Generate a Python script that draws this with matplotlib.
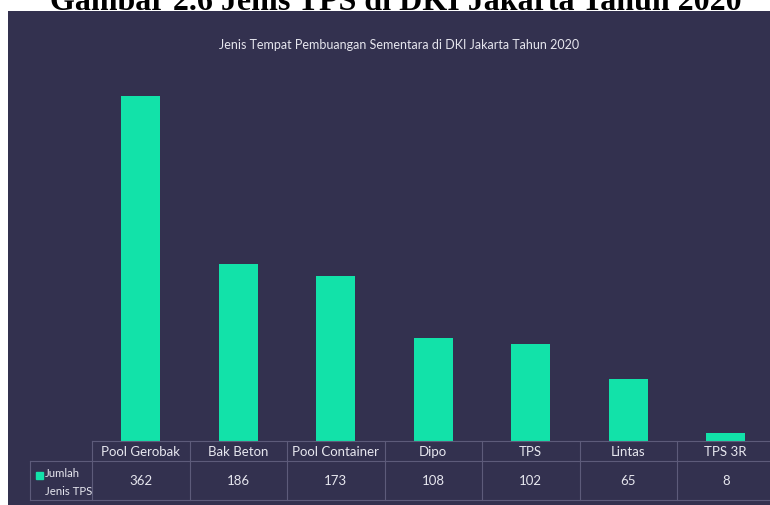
import matplotlib.pyplot as plt
import numpy as np

categories = ['Pool Gerobak', 'Bak Beton', 'Pool Container', 'Dipo', 'TPS', 'Lintas', 'TPS 3R']
jumlah = [362, 186, 173, 108, 102, 65, 8]
series_name = ['Jumlah', 'Jenis TPS']
chart_title = 'Jenis Tempat Pembuangan Sementara di DKI Jakarta Tahun 2020'
doc_title = 'Gambar 2.6 Jenis TPS di DKI Jakarta Tahun 2020'

bg = '#33314f'
bar_col = '#12e2a9'
line_col = '#5d5b7a'
txt_col = '#e6e6ee'
fnt = 'Lato'

W, H = 770, 506
fig = plt.figure(figsize=(W / 100, H / 100), dpi=100)
fig.patch.set_facecolor('white')


def box(x0, y0, x1, y1):
    # pixel box (top-left origin) -> figure fraction rect
    return [x0 / W, 1 - y1 / H, (x1 - x0) / W, (y1 - y0) / H]


# dark panel
panel = fig.add_axes(box(8, 12, 775, 510))
panel.set_facecolor(bg)
panel.set_xticks([])
panel.set_yticks([])
for s in panel.spines.values():
    s.set_visible(False)

# cropped caption at the very top (only its lower part is visible)
fig.text(396 / W, 1 - 10.5 / H, doc_title, ha='center', va='baseline',
         fontsize=23, fontweight='bold', family='Liberation Serif', color='black')

col_w = 97.5
x_left = 92
n = len(categories)

# bars
ax = fig.add_axes(box(x_left, 61, x_left + n * col_w, 442))
ax.patch.set_alpha(0)
x = np.arange(n) + 0.5
ax.bar(x, jumlah, width=0.4, color=bar_col)
ax.set_xlim(0, n)
ax.set_ylim(0, 400)
ax.axis('off')

fig.text(399 / W, 1 - 45 / H, chart_title, ha='center', va='center',
         fontsize=9, family=fnt, color=txt_col)

# data table
tb = fig.add_axes(box(30, 442, x_left + n * col_w, 501))
tb.patch.set_alpha(0)
tb.axis('off')
x0 = (30 - x_left) / col_w
tb.set_xlim(x0, n)
tb.set_ylim(0, 59)
lw = 0.8
tb.plot([0, n], [59, 59], color=line_col, lw=lw, clip_on=False)
tb.plot([x0, n], [39, 39], color=line_col, lw=lw, clip_on=False)
tb.plot([x0, n], [0, 0], color=line_col, lw=lw, clip_on=False)
tb.plot([x0, x0], [0, 39], color=line_col, lw=lw, clip_on=False)
for i in range(n + 1):
    tb.plot([i, i], [0, 59], color=line_col, lw=lw, clip_on=False)

for i, (c, v) in enumerate(zip(categories, jumlah)):
    tb.text(i + 0.5, 49, c, ha='center', va='center', fontsize=9.5,
            family=fnt, color=txt_col)
    tb.text(i + 0.5, 19.5, str(v), ha='center', va='center', fontsize=9.5,
            family=fnt, color=txt_col)

# legend key inside the row header
tb.add_patch(plt.Rectangle((x0 + 6 / col_w, 21), 7 / col_w, 7, color=bar_col))
tb.text(x0 + 15 / col_w, 27.5, series_name[0], ha='left', va='center',
        fontsize=8.2, family=fnt, color=txt_col)
tb.text(x0 + 15 / col_w, 9.5, series_name[1], ha='left', va='center',
        fontsize=8.2, family=fnt, color=txt_col)

fig.savefig('out.png', dpi=100)
